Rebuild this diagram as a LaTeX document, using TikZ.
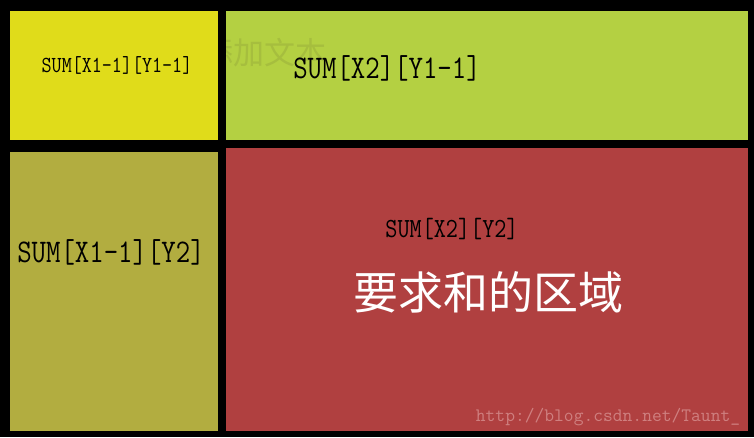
\documentclass[tikz,border=0pt]{standalone}
\usepackage{fontspec}
\newfontfamily\cjkfont{Noto Sans CJK SC}
\definecolor{boxyellow}{HTML}{E0DC1A}
\definecolor{boxgreen}{HTML}{B4D042}
\definecolor{boxolive}{HTML}{B2AD40}
\definecolor{boxred}{HTML}{B04040}
\definecolor{ghostgreen}{HTML}{A6BE3E}
\definecolor{markpink}{HTML}{CF8080}
\tikzset{
  sumlabel/.style={text=black,inner sep=0pt},
  areafill/.style={draw=none}
}
\newcommand{\monosize}[1]{\ttfamily\fontsize{#1}{#1}\selectfont}
\newcommand{\tallsum}[1]{\scalebox{1}[1.18]{#1}}
\begin{document}
\begin{tikzpicture}[x=1pt,y=-1pt]
	\fill[black] (0,0) rectangle (754,437);
	
	\fill[areafill,boxyellow] (10,11) rectangle (218,140);
	\fill[areafill,boxgreen] (226,11) rectangle (748,140);
	\fill[areafill,boxolive] (10,152) rectangle (218,431);
	\fill[areafill,boxred] (226,148) rectangle (748,431);
	
	\begin{scope}
		\clip (226,11) rectangle (748,140);
		\node[inner sep=0pt,text=ghostgreen,font=\cjkfont\fontsize{31}{31}\selectfont] (ghost) at (264,53) {添加文本};
	\end{scope}
	
	\node[sumlabel,font=\monosize{19.5}] (s11) at (117,65) {\tallsum{SUM[X1-1][Y1-1]}};
	\node[sumlabel,font=\monosize{28}] (s21) at (387,68) {\tallsum{SUM[X2][Y1-1]}};
	\node[sumlabel,font=\monosize{28}] (s12) at (111,252) {\tallsum{SUM[X1-1][Y2]}};
	\node[sumlabel,font=\monosize{23.5}] (s22) at (452,229) {\tallsum{SUM[X2][Y2]}};
	
	\node[inner sep=0pt,text=white,font=\cjkfont\fontsize{45}{45}\selectfont] (goal) at (488,292) {要求和的区域};
	
	\node[inner sep=0pt,text=markpink,font=\monosize{19}] (mark) at (608,417) {http://blog.csdn.net/Taunt\_};
\end{tikzpicture}
\end{document}
